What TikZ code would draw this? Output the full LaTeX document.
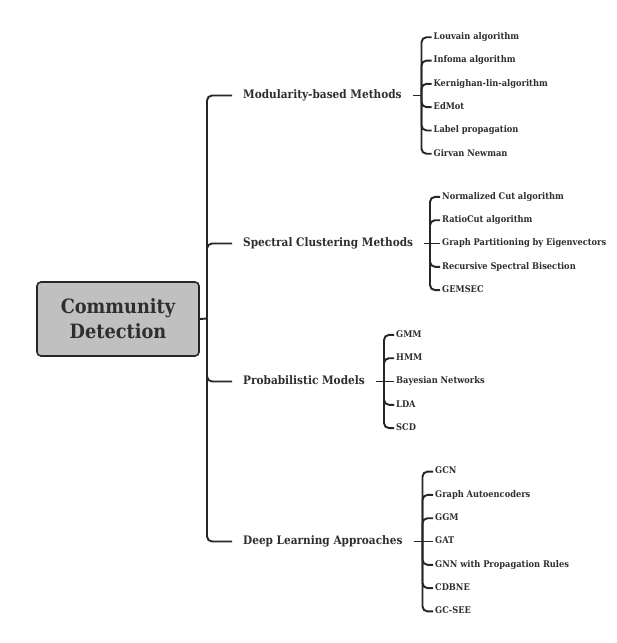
\documentclass[tikz,border=0pt]{standalone}
\usepackage{fontspec}
\setmainfont{DejaVu Serif Condensed}
\definecolor{linec}{HTML}{262626}
\definecolor{textc}{HTML}{2E2E2E}
\definecolor{boxfill}{HTML}{C0C0C0}
\tikzset{
  rootbox/.style={draw=linec, line width=1.6pt, fill=boxfill, rounded corners=4pt,
    minimum width=162pt, minimum height=74pt, align=center, text=textc,
    font=\fontsize{19.7}{25}\selectfont\bfseries, inner sep=0pt},
  lvlone/.style={anchor=west, inner xsep=11pt, inner ysep=0pt, text=textc,
    font=\fontsize{11.7}{13}\selectfont\bfseries, text height=8.5pt, text depth=2.6pt},
  lvltwo/.style={anchor=west, inner xsep=2pt, inner ysep=0pt, text=textc,
    font=\fontsize{9.2}{10}\selectfont\bfseries, text height=6.8pt, text depth=2.1pt},
  conn/.style={draw=linec, line width=1.9pt, rounded corners=5pt}
}
\begin{document}
\begin{tikzpicture}[x=1pt,y=-1pt]
\useasboundingbox (0,0) rectangle (617,643);
\fill[white] (0,0) rectangle (617,643);

\node[rootbox] (root) at (118,319) {Community\\Detection};
\coordinate (j0) at (207,318.5);
\draw[conn] (root.east) -- (j0);

% level one
\node[lvlone] (m1) at (232,95.5) {Modularity-based Methods};
\node[lvlone] (m2) at (232,243.5) {Spectral Clustering Methods};
\node[lvlone] (m3) at (232,381.5) {Probabilistic Models};
\node[lvlone] (m4) at (232,541.5) {Deep Learning Approaches};
\foreach \m in {m1,m2,m3,m4}{\draw[conn] (j0) |- (\m.west);}

% junctions
\coordinate (ja) at (421.5,95.5);
\coordinate (jb) at (430,243.5);
\coordinate (jc) at (384,381.5);
\coordinate (jd) at (422.5,541.5);
\draw[conn] (m1.east) -- (ja);
\draw[conn] (m2.east) -- (jb);
\draw[conn] (m3.east) -- (jc);
\draw[conn] (m4.east) -- (jd);

% Modularity children
\node[lvltwo] (a1) at (431.5,37.25) {Louvain algorithm};
\node[lvltwo] (a2) at (431.5,60.55) {Infoma algorithm};
\node[lvltwo] (a3) at (431.5,83.85) {Kernighan-lin-algorithm};
\node[lvltwo] (a4) at (431.5,107.15) {EdMot};
\node[lvltwo] (a5) at (431.5,130.45) {Label propagation};
\node[lvltwo] (a6) at (431.5,153.75) {Girvan Newman};
\foreach \c in {a1,a2,a3,a4,a5,a6}{\draw[conn] (ja) |- (\c.west);}

% Spectral children
\node[lvltwo] (b1) at (440,196.9) {Normalized Cut algorithm};
\node[lvltwo] (b2) at (440,220.2) {RatioCut algorithm};
\node[lvltwo] (b3) at (440,243.5) {Graph Partitioning by Eigenvectors};
\node[lvltwo] (b4) at (440,266.8) {Recursive Spectral Bisection};
\node[lvltwo] (b5) at (440,290.1) {GEMSEC};
\foreach \c in {b1,b2,b4,b5}{\draw[conn] (jb) |- (\c.west);}
\draw[conn] (jb) -- (b3.west);

% Probabilistic children
\node[lvltwo] (c1) at (394,334.9) {GMM};
\node[lvltwo] (c2) at (394,358.2) {HMM};
\node[lvltwo] (c3) at (394,381.5) {Bayesian Networks};
\node[lvltwo] (c4) at (394,404.8) {LDA};
\node[lvltwo] (c5) at (394,428.1) {SCD};
\foreach \c in {c1,c2,c4,c5}{\draw[conn] (jc) |- (\c.west);}
\draw[conn] (jc) -- (c3.west);

% Deep learning children
\node[lvltwo] (d1) at (433,471.6) {GCN};
\node[lvltwo] (d2) at (433,494.9) {Graph Autoencoders};
\node[lvltwo] (d3) at (433,518.2) {GGM};
\node[lvltwo] (d4) at (433,541.5) {GAT};
\node[lvltwo] (d5) at (433,564.8) {GNN with Propagation Rules};
\node[lvltwo] (d6) at (433,588.1) {CDBNE};
\node[lvltwo] (d7) at (433,611.4) {GC-SEE};
\foreach \c in {d1,d2,d3,d5,d6,d7}{\draw[conn] (jd) |- (\c.west);}
\draw[conn] (jd) -- (d4.west);
\end{tikzpicture}
\end{document}
